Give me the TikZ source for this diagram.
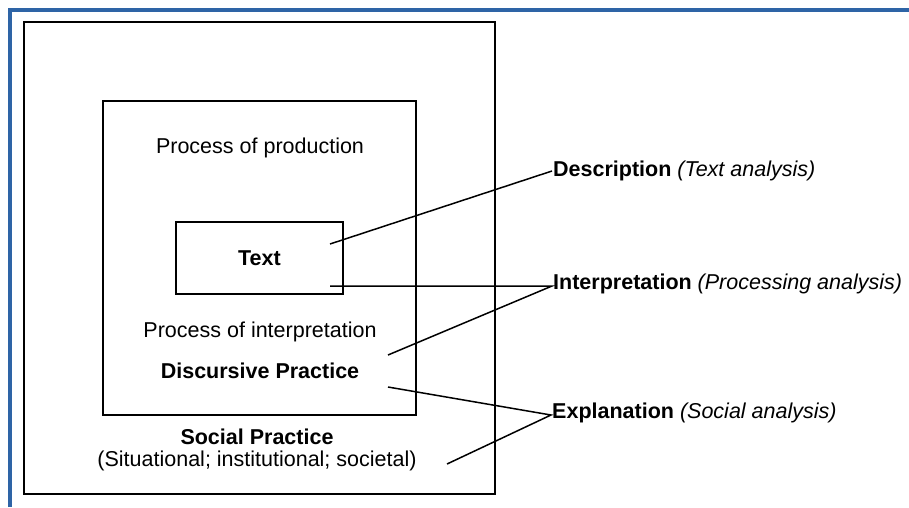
\documentclass[tikz,border=0pt]{standalone}
\usepackage{fontspec}
\setmainfont{Liberation Sans}
\definecolor{frameblue}{RGB}{46,100,166}
\tikzset{
  box/.style={draw, line width=1.5pt, inner sep=0pt},
  lbl/.style={font=\fontsize{21.5}{26}\selectfont, inner sep=0pt},
  side/.style={lbl, anchor=west, inner sep=1pt},
  link/.style={line width=1.5pt}
}
\begin{document}
\begin{tikzpicture}[x=1pt,y=-1pt]
        \useasboundingbox (0,0) rectangle (909,507);
        \draw [frameblue, line width=4pt] (10,507) -- (10,9.5) -- (909,9.5);
        \node [box, minimum width=471pt, minimum height=472pt] (social) at (259.5,258) {};
        \node [box, minimum width=313pt, minimum height=314pt] (discursive) at (259.5,258) {};
        \node [box, lbl, minimum width=167pt, minimum height=72pt] (text) at (259.5,258) {\textbf{Text}};
        \node [lbl] (prod) at (260,148) {Process of production};
        \node [lbl] (interp) at (260,332) {Process of interpretation};
        \node [lbl] (dp) at (260,371) {\textbf{Discursive Practice}};
        \node [lbl] (sp) at (257,437) {\textbf{Social Practice}};
        \node [lbl] (spsub) at (257,461) {(Situational; institutional; societal)};
        \node [side] (desc) at (552,171) {\textbf{Description} \textit{(Text analysis)}};
        \node [side] (interpr) at (552,284) {\textbf{Interpretation} \textit{(Processing analysis)}};
        \node [side] (expl) at (551,413) {\textbf{Explanation} \textit{(Social analysis)}};
        \coordinate (d0) at (330,244);
        \coordinate (i0) at (330,286);
        \coordinate (i1) at (388,355);
        \coordinate (e0) at (388,387);
        \coordinate (e1) at (447,464);
        \draw [link] (d0) -- (desc.west);
        \draw [link] (i0) -- ([yshift=-2pt]interpr.west) -- (i1);
        \draw [link] (e0) -- ([yshift=-2pt]expl.west) -- (e1);
    \end{tikzpicture}
\end{document}
